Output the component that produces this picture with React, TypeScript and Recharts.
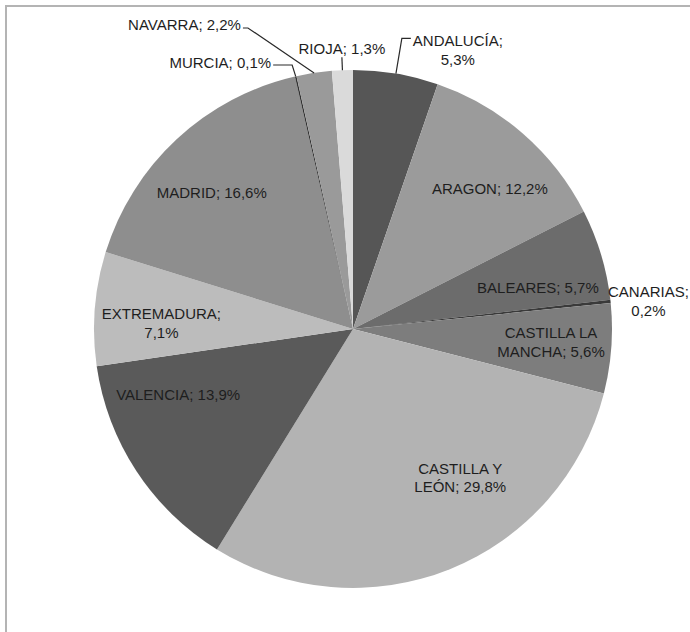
import React from 'react'
import { PieChart, Pie, Cell } from 'recharts'

const regions = [
  'ANDALUCÍA',
  'ARAGON',
  'BALEARES',
  'CANARIAS',
  'CASTILLA LA MANCHA',
  'CASTILLA Y LEÓN',
  'VALENCIA',
  'EXTREMADURA',
  'MADRID',
  'MURCIA',
  'NAVARRA',
  'RIOJA',
]
const shares = [5.3, 12.2, 5.7, 0.2, 5.6, 29.8, 13.9, 7.1, 16.6, 0.1, 2.2, 1.3]

const greys = [
  '#565656', '#9b9b9b', '#6c6c6c', '#3a3a3a', '#7d7d7d', '#b3b3b3',
  '#5a5a5a', '#bcbcbc', '#8e8e8e', '#333333', '#9a9a9a', '#dadada',
]

// label layout, relative to each slice: angle shift (deg, clockwise), distance (x radius),
// word index where the label wraps (0 = one line), leader tail (null = no leader line)
const labelShift = [0, 3, 4, 0.6, -0.7, -14, 13, -2.5, -3, -0.2, -10.6, 0]
const labelDist = [1.138, 0.76, 0.732, 1.146, 0.766, 0.705, 0.72, 0.74, 0.76, 1.046, 1.231, 1.05]
const labelBreak = [1, 0, 0, 1, 2, 2, 0, 1, 0, 0, 0, 0]
const leaderTail: (number | null)[] = [9, null, null, null, null, null, null, null, null, -19, -5, 0]

const data = regions.map((name, i) => ({ name, value: shares[i] }))

const FONT = 15
const LINE = 18.5
const RAD = Math.PI / 180

const labelLines = (name: string, value: number, brk: number) => {
  const words = `${name}; ${value.toFixed(1).replace('.', ',')}%`.split(' ')
  if (!brk) return [words.join(' ')]
  return [words.slice(0, brk).join(' '), words.slice(brk).join(' ')]
}

const PieLabel = (props: any) => {
  const { cx, cy, midAngle, outerRadius, index, name, value } = props
  // recharts angle -> clockwise from 12 o'clock
  const mid = 90 - midAngle
  const theta = mid + labelShift[index]
  const r = outerRadius * labelDist[index]
  const px = cx + r * Math.sin(theta * RAD)
  const py = cy - r * Math.cos(theta * RAD)
  const lines = labelLines(name, value, labelBreak[index])
  const tail = leaderTail[index]
  const textStyle = { fontFamily: '"Liberation Sans", Arial, sans-serif', fontSize: FONT, fill: '#1e1e1e' }

  if (tail === null) {
    const top = py - ((lines.length - 1) * LINE) / 2
    return (
      <text textAnchor="middle" dominantBaseline="central" style={textStyle}>
        {lines.map((l, k) => (
          <tspan key={k} x={px} y={top + k * LINE}>{l}</tspan>
        ))}
      </text>
    )
  }

  const ex = cx + outerRadius * Math.sin(mid * RAD)
  const ey = cy - outerRadius * Math.cos(mid * RAD)
  const tx = px + tail
  let text
  if (tail === 0) {
    text = (
      <text x={px} y={py - 9} textAnchor="middle" dominantBaseline="central" style={textStyle}>{lines[0]}</text>
    )
  } else if (tail > 0) {
    const w = lines[0].length * FONT * 0.6
    const xc = tx + 2 + w / 2
    text = (
      <text textAnchor="middle" dominantBaseline="central" style={textStyle}>
        {lines.map((l, k) => (
          <tspan key={k} x={xc} y={py + 2 + k * LINE}>{l}</tspan>
        ))}
      </text>
    )
  } else {
    text = (
      <text x={tx - 2} y={py - 3} textAnchor="end" dominantBaseline="central" style={textStyle}>{lines[0]}</text>
    )
  }
  return (
    <g>
      <polyline points={`${ex},${ey} ${px},${py} ${tx},${py}`} fill="none" stroke="#2a2a2a" strokeWidth={1.2} />
      {text}
    </g>
  )
}

export default function App() {
  return (
    <div style={{ position: 'fixed', left: 0, top: 0, width: 690, height: 632, overflow: 'hidden', background: '#fff' }}>
      <div
        style={{
          position: 'absolute',
          left: 5,
          top: 5,
          width: 800,
          height: 800,
          borderTop: '2px solid #b4b4b4',
          borderLeft: '2px solid #b4b4b4',
        }}
      />
      <div style={{ position: 'absolute', left: 0, top: 0 }}>
        <PieChart width={690} height={632}>
          <Pie
            data={data}
            dataKey="value"
            nameKey="name"
            cx={348}
            cy={324}
            outerRadius={259}
            startAngle={90}
            endAngle={-270}
            stroke="none"
            label={PieLabel}
            labelLine={false}
            isAnimationActive={false}
          >
            {data.map((d, i) => (
              <Cell key={d.name} fill={greys[i]} stroke="none" />
            ))}
          </Pie>
        </PieChart>
      </div>
    </div>
  )
}
